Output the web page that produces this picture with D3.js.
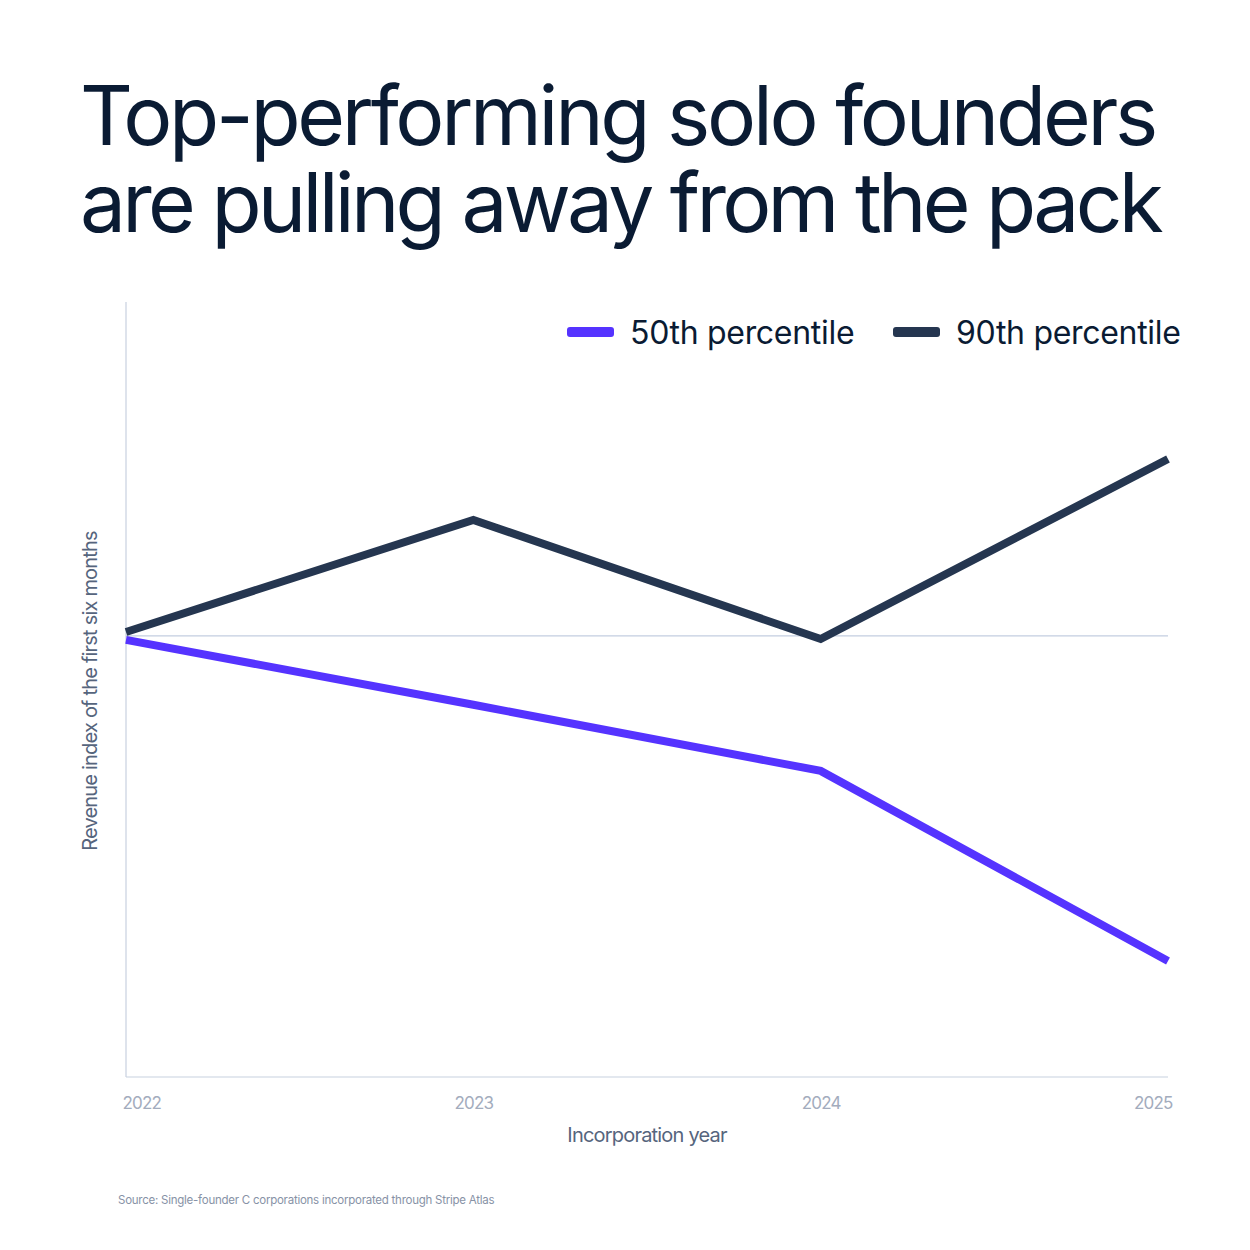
<!DOCTYPE html>
<html>
<head>
<meta charset="utf-8">
<script src="https://cdn.jsdelivr.net/npm/d3@7"></script>
<style>
  body { margin: 0; background: #fff; }
  svg { display: block; font-family: Inter, "Noto Sans", sans-serif; }
</style>
</head>
<body>
<div id="chart"></div>
<script>
// data (index, baseline = 100)
const years = [2022, 2023, 2024, 2025];
const p50 = [99.1, 84.4, 69.4, 26.3];
const p90 = [100.9, 126.3, 99.3, 140.1];
const baseline = 100;
const seriesNames = ["50th percentile", "90th percentile"];
const seriesColors = ["#5533ff", "#253650"];
const titleLines = ["Top-performing solo founders", "are pulling away from the pack"];

const W = 1250, H = 1250;
const margin = { top: 302, right: 82, bottom: 173, left: 126 };
const width = W - margin.left - margin.right;
const height = H - margin.top - margin.bottom;

const svg = d3.select('#chart').append('svg')
  .attr('width', W)
  .attr('height', H);

// Title, one text element with a tspan per line
const title = svg.append('text')
  .attr('font-size', 82)
  .attr('font-weight', 400)
  .attr('fill', '#0a1b33');
titleLines.forEach((t, i) => {
  title.append('tspan')
    .attr('x', 80)
    .attr('y', 145 + i * 87)
    .attr('letter-spacing', -3)
    .text(t);
});
// squeeze lines to the width they have in the reference
const titleW = [1075, 1080];
title.selectAll('tspan').each(function(d, i) {
  const w = this.getComputedTextLength();
  const n = titleLines[i].length;
  d3.select(this).attr('letter-spacing', -3 + (titleW[i] - w) / n);
});

const g = svg.append('g')
  .attr('transform', `translate(${margin.left},${margin.top})`);

const x = d3.scalePoint().domain(years).range([0, width]);
const y = d3.scaleLinear().domain([0, 175.7]).range([height, 0]);

// axes lines
g.append('line')
  .attr('x1', 0).attr('x2', 0)
  .attr('y1', 0).attr('y2', height)
  .attr('stroke', '#c8d1e0').attr('stroke-width', 1.2);

g.append('line')
  .attr('x1', 0).attr('x2', width)
  .attr('y1', height).attr('y2', height)
  .attr('stroke', '#c8d1e0').attr('stroke-width', 1.2);

// baseline reference
g.append('line')
  .attr('x1', 0).attr('x2', width)
  .attr('y1', y(baseline)).attr('y2', y(baseline))
  .attr('stroke', '#c3cee0').attr('stroke-width', 1.2);

// x tick labels
const xAxis = g.append('g')
  .attr('transform', `translate(0,${height})`)
  .call(d3.axisBottom(x).tickSize(0).tickPadding(20));
xAxis.select('.domain').remove();
xAxis.selectAll('text')
  .attr('font-size', 17)
  .attr('font-family', 'Inter, "Noto Sans", sans-serif')
  .attr('fill', '#a3acbd')
  .attr('letter-spacing', -0.8)
  .attr('text-anchor', (d, i) => i === 0 ? 'start' : (i === years.length - 1 ? 'end' : 'middle'))
  .attr('dx', (d, i) => i === 0 ? -4 : (i === years.length - 1 ? 4 : 0));

// lines
const line = d3.line()
  .x((d, i) => x(years[i]))
  .y(d => y(d));

[p50, p90].forEach((s, k) => {
  g.append('path')
    .datum(s)
    .attr('d', line)
    .attr('fill', 'none')
    .attr('stroke', seriesColors[k])
    .attr('stroke-width', 8)
    .attr('stroke-linejoin', 'miter')
    .attr('stroke-linecap', 'butt');
});

// axis titles
svg.append('text')
  .attr('x', 647)
  .attr('y', 1142)
  .attr('text-anchor', 'middle')
  .attr('font-size', 20)
  .attr('fill', '#56657d')
  .attr('letter-spacing', -0.8)
  .text('Incorporation year');

svg.append('text')
  .attr('transform', 'translate(97,691) rotate(-90)')
  .attr('text-anchor', 'middle')
  .attr('font-size', 20)
  .attr('fill', '#56657d')
  .attr('letter-spacing', -0.8)
  .text('Revenue index of the first six months');

// legend
const legendX = [567, 893];
seriesNames.forEach((name, k) => {
  const lg = svg.append('g').attr('transform', `translate(${legendX[k]},332)`);
  lg.append('rect')
    .attr('x', 0).attr('y', -5)
    .attr('width', 47).attr('height', 10)
    .attr('rx', 3)
    .attr('fill', seriesColors[k]);
  lg.append('text')
    .attr('x', 63)
    .attr('y', 12)
    .attr('font-size', 32)
    .attr('fill', '#0a1b33')
    .attr('letter-spacing', -0.3)
    .text(name);
});

// source
svg.append('text')
  .attr('x', 118)
  .attr('y', 1204)
  .attr('font-size', 11.5)
  .attr('fill', '#8792a6')
  .attr('letter-spacing', -0.25)
  .text('Source: Single-founder C corporations incorporated through Stripe Atlas');
</script>
</body>
</html>
